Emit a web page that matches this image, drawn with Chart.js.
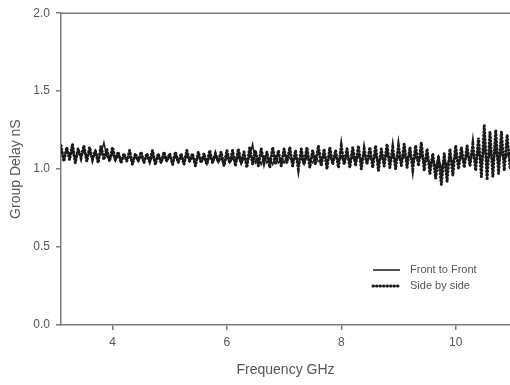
<!DOCTYPE html>
<html>
<head>
<meta charset="utf-8">
<script src="https://cdn.jsdelivr.net/npm/chart.js@4.4.0/dist/chart.umd.min.js"></script>
<style>
  html, body { margin: 0; padding: 0; background: #fff; }
  canvas { display: block; }
</style>
</head>
<body>
<canvas id="delayChart" width="510" height="385"></canvas>
<script>
// frequency points, GHz
const freqGHz = [
  3.10,3.15,3.20,3.25,3.30,3.35,3.40,3.45,3.50,3.55,3.60,3.65,3.70,3.75,3.80,3.85,3.90,3.95,4.00,4.05,
  4.10,4.15,4.20,4.25,4.30,4.35,4.40,4.45,4.50,4.55,4.60,4.65,4.70,4.75,4.80,4.85,4.90,4.95,5.00,5.05,
  5.10,5.15,5.20,5.25,5.30,5.35,5.40,5.45,5.50,5.55,5.60,5.65,5.70,5.75,5.80,5.85,5.90,5.95,6.00,6.05,
  6.10,6.15,6.20,6.25,6.30,6.35,6.40,6.45,6.50,6.55,6.60,6.65,6.70,6.75,6.80,6.85,6.90,6.95,7.00,7.05,
  7.10,7.15,7.20,7.25,7.30,7.35,7.40,7.45,7.50,7.55,7.60,7.65,7.70,7.75,7.80,7.85,7.90,7.95,8.00,8.05,
  8.10,8.15,8.20,8.25,8.30,8.35,8.40,8.45,8.50,8.55,8.60,8.65,8.70,8.75,8.80,8.85,8.90,8.95,9.00,9.05,
  9.10,9.15,9.20,9.25,9.30,9.35,9.40,9.45,9.50,9.55,9.60,9.65,9.70,9.75,9.80,9.85,9.90,9.95,10.00,10.05,
  10.10,10.15,10.20,10.25,10.30,10.35,10.40,10.45,10.50,10.55,10.60,10.65,10.70,10.75,10.80,10.85,10.90,10.95
];

// group delay, nS
const frontToFront = [
  1.12,1.07,1.13,1.08,1.11,1.06,1.13,1.08,1.12,1.07,1.11,1.06,1.12,1.07,1.10,1.17,1.08,1.06,1.10,1.05,
  1.09,1.05,1.09,1.06,1.08,1.04,1.09,1.05,1.08,1.05,1.09,1.04,1.08,1.05,1.09,1.04,1.08,1.05,1.09,1.04,
  1.08,1.05,1.08,1.04,1.09,1.05,1.08,1.04,1.08,1.05,1.07,1.03,1.08,1.05,1.08,1.04,1.07,1.03,1.08,1.04,
  1.07,1.04,1.08,1.03,1.07,1.04,1.08,1.16,1.04,1.07,1.03,1.08,1.04,1.07,1.03,1.08,1.04,1.07,1.04,1.08,
  1.07,1.04,1.08,1.04,1.07,1.03,1.08,1.05,1.04,1.08,1.05,1.04,1.09,1.05,1.08,1.04,1.09,1.05,1.08,1.04,
  1.09,1.05,1.08,1.04,1.09,1.05,1.10,1.04,1.08,1.05,1.09,1.04,1.08,1.05,1.10,1.04,1.09,1.05,1.08,1.04,
  1.09,1.05,1.10,1.04,1.08,1.05,1.09,1.04,1.08,1.03,1.07,1.01,1.08,1.00,1.07,1.02,1.08,1.04,1.09,1.05,
  1.08,1.04,1.09,1.05,1.10,1.04,1.12,1.02,1.14,1.03,1.11,1.04,1.12,1.04,1.11,1.05,1.10,1.06
];

const sideBySide = [
  1.15,1.05,1.14,1.06,1.16,1.04,1.13,1.07,1.15,1.05,1.14,1.06,1.12,1.04,1.15,1.06,1.13,1.05,1.14,1.06,
  1.11,1.04,1.10,1.05,1.12,1.03,1.10,1.05,1.11,1.04,1.10,1.05,1.12,1.03,1.10,1.04,1.11,1.05,1.10,1.03,
  1.11,1.04,1.10,1.03,1.12,1.05,1.10,1.02,1.11,1.04,1.10,1.03,1.12,1.04,1.10,1.05,1.11,1.02,1.12,1.04,
  1.12,1.02,1.13,1.04,1.11,1.01,1.14,1.03,1.12,1.02,1.13,1.04,1.11,1.01,1.14,1.03,1.12,1.02,1.13,1.04,
  1.14,1.02,1.12,1.00,1.13,1.03,1.14,1.01,1.12,1.03,1.15,1.02,1.13,1.00,1.14,1.03,1.12,1.01,1.15,1.03,
  1.13,1.01,1.14,1.02,1.15,1.00,1.13,1.03,1.14,1.01,1.15,0.99,1.13,1.02,1.16,1.01,1.14,1.00,1.15,1.02,
  1.16,1.01,1.14,1.00,1.15,1.02,1.17,0.99,1.13,0.97,1.10,0.94,1.08,0.90,1.10,0.92,1.13,0.96,1.15,1.00,
  1.14,1.01,1.15,1.02,1.16,0.99,1.20,0.95,1.28,0.93,1.24,0.95,1.25,0.97,1.24,0.99,1.22,1.01
];

const seriesNames = ["Front to Front", "Side by side"];
const xTicks = [4, 6, 8, 10];
const yTicks = [0.0, 0.5, 1.0, 1.5, 2.0];

const axisColor = "#7a7a7a";
const textColor = "#555";
const font = "'Liberation Sans', Arial, sans-serif";

const toPoints = (vals) => vals.map((v, i) => ({ x: freqGHz[i], y: v }));

// top frame line + legend box inside the plot
const framePlugin = {
  id: "frame",
  afterDraw(chart) {
    const { ctx, chartArea } = chart;
    ctx.save();
    ctx.strokeStyle = axisColor;
    ctx.lineWidth = 1.5;
    ctx.beginPath();
    ctx.moveTo(chartArea.left, chartArea.top);
    ctx.lineTo(chartArea.right, chartArea.top);
    ctx.stroke();

    const x0 = 373, x1 = 400;
    const rows = [270, 286];
    chart.data.datasets.forEach((ds, i) => {
      ctx.strokeStyle = ds.borderColor;
      ctx.lineWidth = i === 0 ? 1.5 : 3;
      ctx.lineCap = i === 0 ? "butt" : "round";
      ctx.setLineDash(ds.borderDash || []);
      ctx.beginPath();
      ctx.moveTo(x0, rows[i]);
      ctx.lineTo(x1, rows[i]);
      ctx.stroke();
      ctx.setLineDash([]);
      ctx.fillStyle = textColor;
      ctx.font = "11px " + font;
      ctx.textBaseline = "middle";
      ctx.fillText(ds.label, 410, rows[i]);
    });
    ctx.restore();
  }
};

new Chart(document.getElementById("delayChart"), {
  type: "line",
  data: {
    datasets: [
      {
        label: seriesNames[0],
        data: toPoints(frontToFront),
        borderColor: "#1a1a1a",
        borderWidth: 1.5,
        pointRadius: 0,
        tension: 0
      },
      {
        label: seriesNames[1],
        data: toPoints(sideBySide),
        borderColor: "#1a1a1a",
        borderWidth: 3,
        borderDash: [0.5, 3],
        borderCapStyle: "round",
        pointRadius: 0,
        tension: 0
      }
    ]
  },
  options: {
    responsive: false,
    animation: false,
    layout: { padding: { top: 10, right: 0, left: 0, bottom: 0 } },
    plugins: { legend: { display: false }, tooltip: { enabled: false } },
    scales: {
      x: {
        type: "linear",
        min: 3.1,
        max: 10.95,
        afterBuildTicks: (s) => { s.ticks = xTicks.map(v => ({ value: v })); },
        afterFit: (s) => { s.height = 60; },
        grid: { drawOnChartArea: false, drawTicks: true, tickLength: 5, color: axisColor, lineWidth: 1.5 },
        border: { display: true, color: axisColor, width: 1.5 },
        ticks: { color: textColor, font: { family: font, size: 12 }, padding: 5, maxRotation: 0 },
        title: { display: true, text: "Frequency GHz", color: textColor, font: { family: font, size: 14 }, padding: { top: 4, bottom: 6 } }
      },
      y: {
        min: 0,
        max: 2,
        afterBuildTicks: (s) => { s.ticks = yTicks.map(v => ({ value: v })); },
        afterFit: (s) => { s.width = 61; },
        grid: { drawOnChartArea: false, drawTicks: true, tickLength: 5, color: axisColor, lineWidth: 1.5 },
        border: { display: true, color: axisColor, width: 1.5 },
        ticks: { color: textColor, font: { family: font, size: 12 }, padding: 6, callback: (v) => v.toFixed(1) },
        title: { display: true, text: "Group Delay nS", color: textColor, font: { family: font, size: 14 }, padding: { top: 8, bottom: 4 } }
      }
    }
  },
  plugins: [framePlugin]
});
</script>
</body>
</html>
